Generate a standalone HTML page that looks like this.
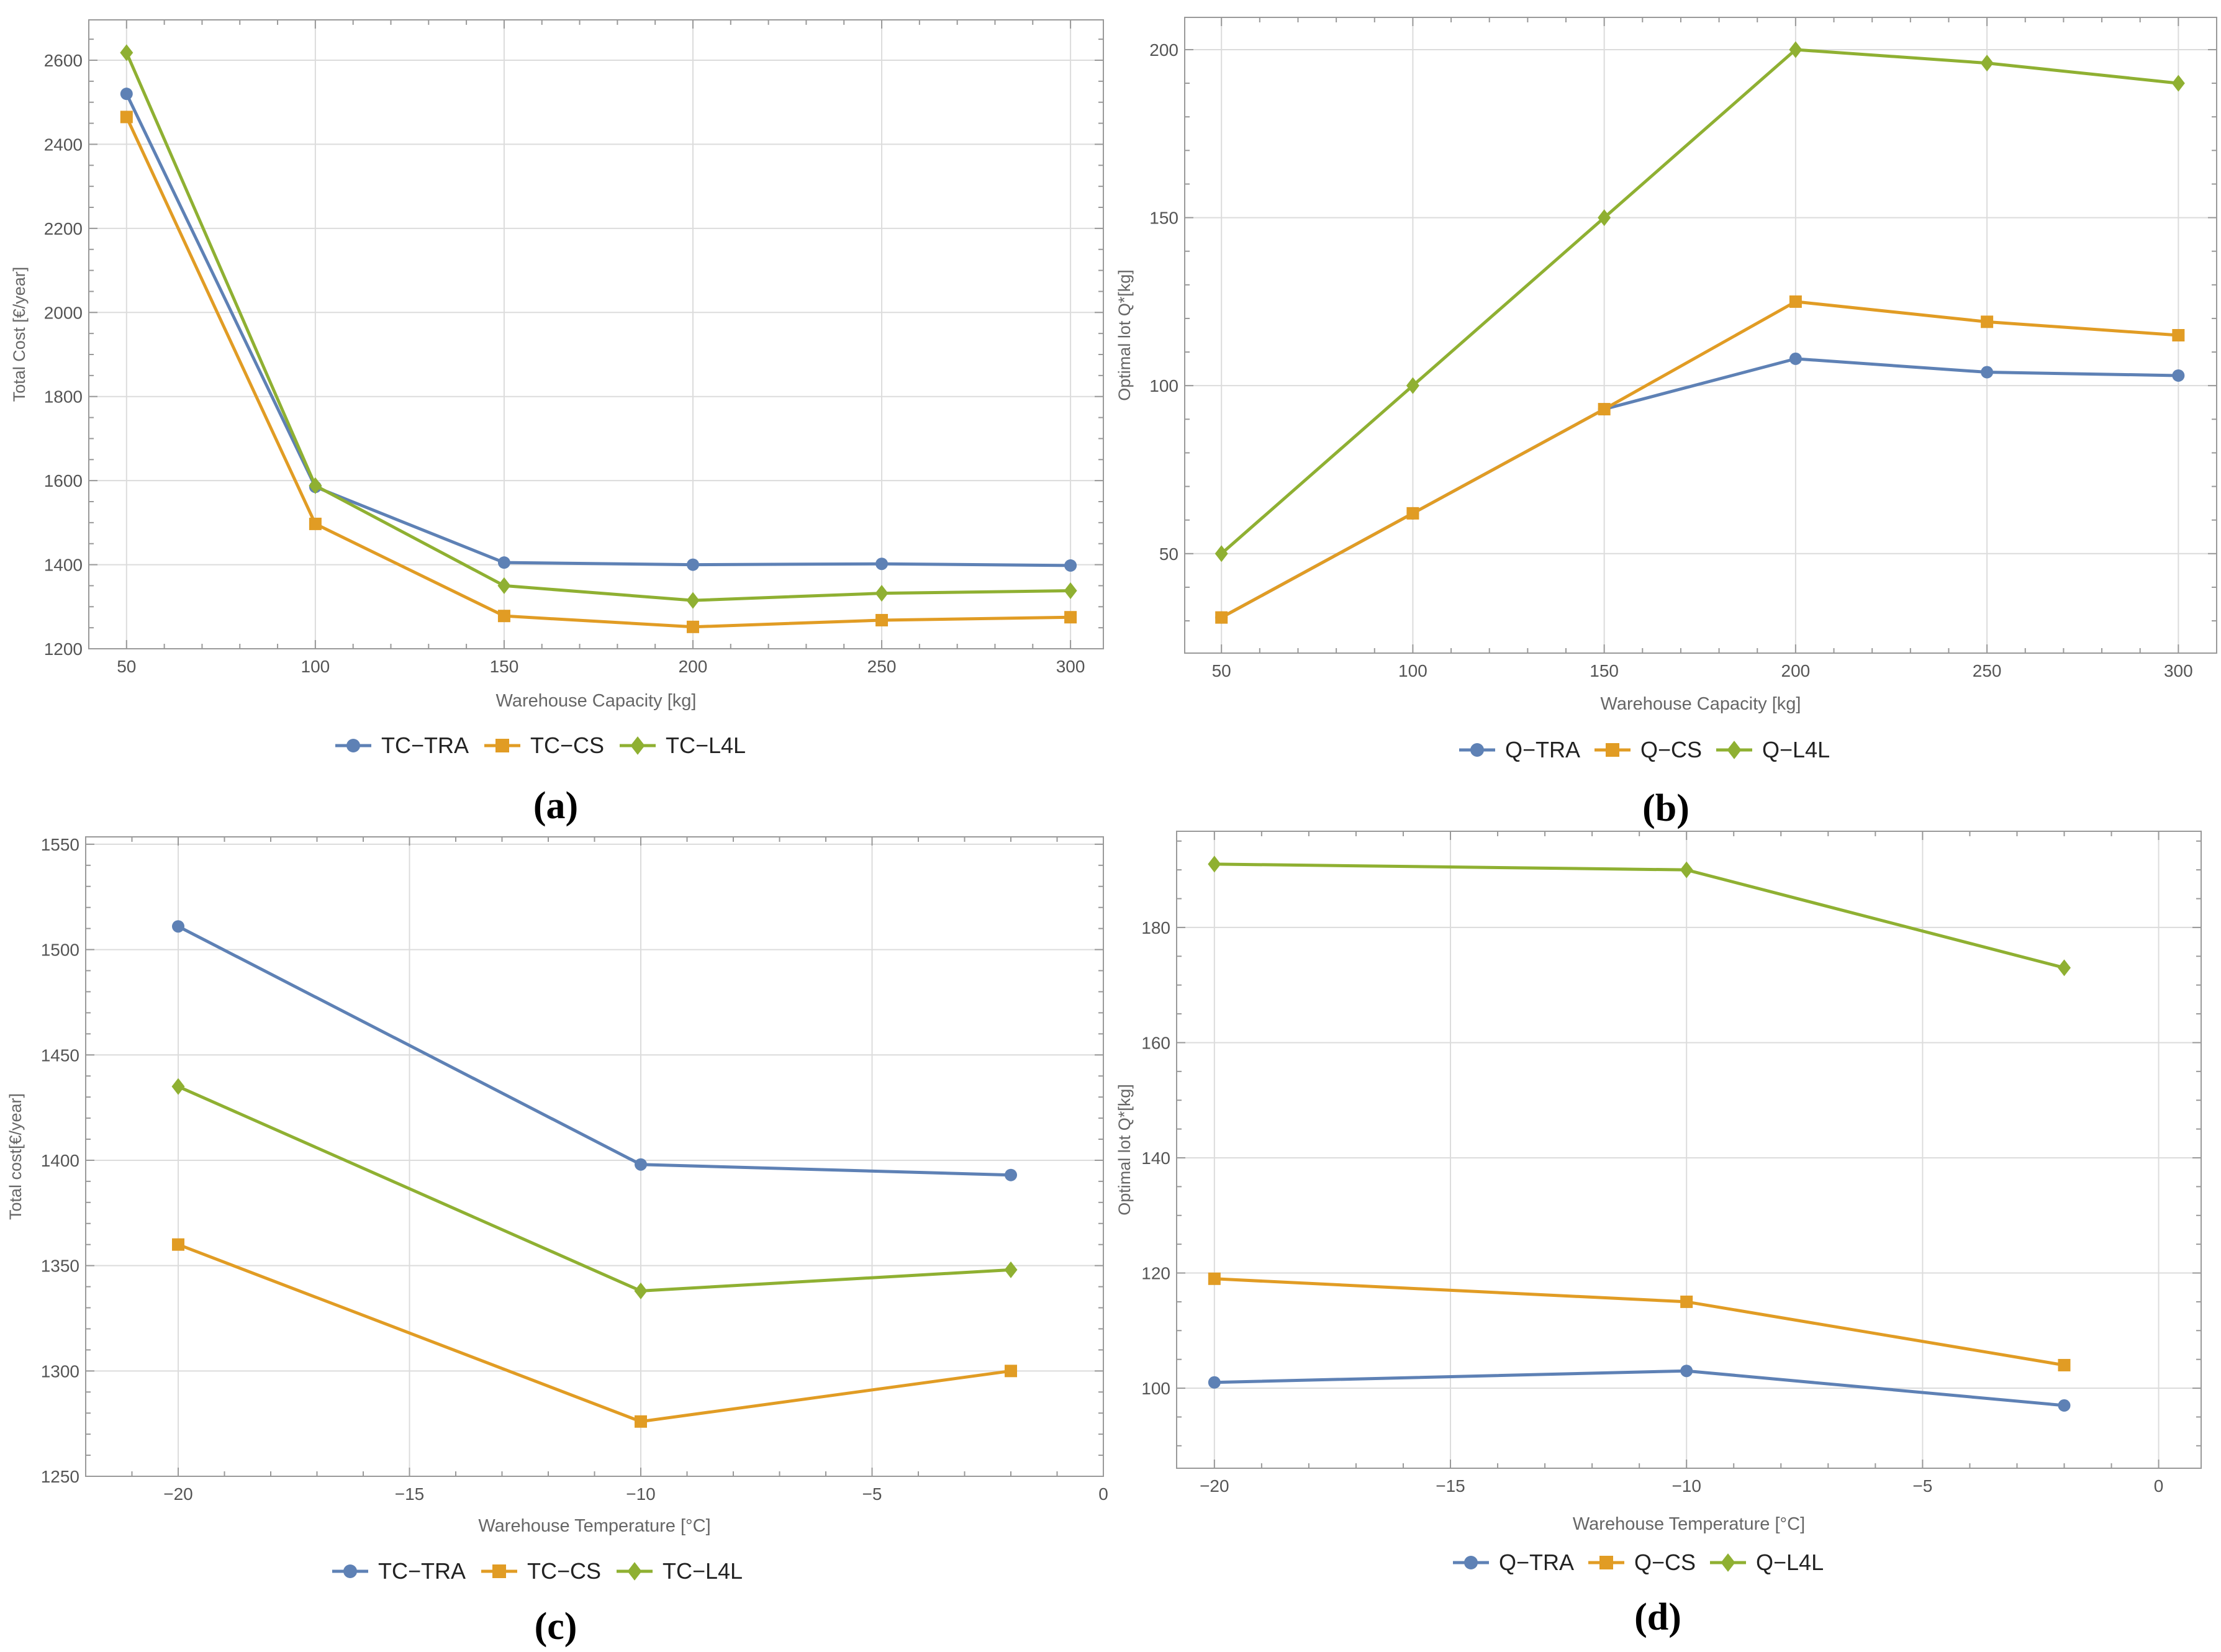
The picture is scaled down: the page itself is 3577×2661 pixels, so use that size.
<!DOCTYPE html>
<html><head><meta charset="utf-8"><style>
html,body{margin:0;padding:0;background:#fff;}
svg{display:block;}
</style></head><body>
<svg id="fig" width="3577" height="2661" viewBox="0 0 3577 2661" xmlns="http://www.w3.org/2000/svg" font-family="Liberation Sans, sans-serif"></svg>
<script>
const capX = [50, 100, 150, 200, 250, 300];
const tempX = [-20, -10, -2];
const aTRA = [2520, 1585, 1405, 1400, 1402, 1398];
const aCS = [2465, 1497, 1278, 1252, 1268, 1275];
const aL4L = [2618, 1588, 1350, 1315, 1332, 1338];
const bTRA = [31, 62, 93, 108, 104, 103];
const bCS = [31, 62, 93, 125, 119, 115];
const bL4L = [50, 100, 150, 200, 196, 190];
const cTRA = [1511, 1398, 1393];
const cCS = [1360, 1276, 1300];
const cL4L = [1435, 1338, 1348];
const dTRA = [101, 103, 97];
const dCS = [119, 115, 104];
const dL4L = [191, 190, 173];
const capTicks = [50, 100, 150, 200, 250, 300];
const tempTicks = [-20, -15, -10, -5, 0];
const aYTicks = [1200, 1400, 1600, 1800, 2000, 2200, 2400, 2600];
const bYTicks = [50, 100, 150, 200];
const cYTicks = [1250, 1300, 1350, 1400, 1450, 1500, 1550];
const dYTicks = [100, 120, 140, 160, 180];

const NS = 'http://www.w3.org/2000/svg';
const svg = document.getElementById('fig');
const COL = {TRA: '#5E81B5', CS: '#E19C24', L4L: '#8FB032'};
function mk(tag, attrs, parent) {
  const e = document.createElementNS(NS, tag);
  for (const k in attrs) e.setAttribute(k, attrs[k]);
  (parent || svg).appendChild(e);
  return e;
}
function marker(g, kind, x, y, s) {
  let m;
  if (kind === 'TRA') m = mk('circle', {cx: x, cy: y, r: s, fill: COL.TRA}, g);
  else if (kind === 'CS') m = mk('rect', {x: x - s, y: y - s, width: 2 * s, height: 2 * s, fill: COL.CS}, g);
  else m = mk('polygon', {points: `${x},${y - s * 1.35} ${x + s * 1.05},${y} ${x},${y + s * 1.35} ${x - s * 1.05},${y}`, fill: COL.L4L}, g);
  return m;
}
function chart(p) {
  const g = mk('g', {});
  
  
  const sx = v => p.L + (v - p.x0) / (p.x1 - p.x0) * (p.R - p.L);
  const sy = v => p.B - (v - p.y0) / (p.y1 - p.y0) * (p.B - p.T);
  p.xt.forEach(v => { if (v > p.x0 && v < p.x1) { const l = mk('line', {x1: sx(v), x2: sx(v), y1: p.T, y2: p.B, stroke: '#dcdcdc', 'stroke-width': 2}, g);   } });
  p.yt.forEach(v => { const l = mk('line', {x1: p.L, x2: p.R, y1: sy(v), y2: sy(v), stroke: '#dcdcdc', 'stroke-width': 2}, g);   });
  const fr = mk('rect', {x: p.L, y: p.T, width: p.R - p.L, height: p.B - p.T, fill: 'none', stroke: '#999', 'stroke-width': 2}, g);
  
  
  for (let v = Math.ceil(p.x0 / p.xm) * p.xm; v <= p.x1 + 1e-9; v += p.xm) {
    const maj = p.xt.some(t => Math.abs(t - v) < 1e-6), len = maj ? 14 : 8;
    mk('line', {x1: sx(v), x2: sx(v), y1: p.B, y2: p.B - len, stroke: '#999', 'stroke-width': 2}, g);
    mk('line', {x1: sx(v), x2: sx(v), y1: p.T, y2: p.T + len, stroke: '#999', 'stroke-width': 2}, g);
  }
  for (let v = Math.ceil(p.y0 / p.ym) * p.ym; v <= p.y1 + 1e-9; v += p.ym) {
    const maj = p.yt.some(t => Math.abs(t - v) < 1e-6), len = maj ? 14 : 8;
    mk('line', {x1: p.L, x2: p.L + len, y1: sy(v), y2: sy(v), stroke: '#999', 'stroke-width': 2}, g);
    mk('line', {x1: p.R, x2: p.R - len, y1: sy(v), y2: sy(v), stroke: '#999', 'stroke-width': 2}, g);
  }
  p.xt.forEach(v => {
    const t = mk('text', {x: sx(v), y: p.B + 38, 'text-anchor': 'middle', 'font-size': 28, fill: '#555'}, g);
    t.textContent = v < 0 ? '\u2212' + (-v) : v;
    
    
  });
  p.yt.forEach(v => {
    const t = mk('text', {x: p.L - 10, y: sy(v) + 10, 'text-anchor': 'end', 'font-size': 28, fill: '#555'}, g);
    t.textContent = v;
    
    
  });
  const xt = mk('text', {x: (p.L + p.R) / 2, y: p.xTitleY, 'text-anchor': 'middle', 'font-size': 29, fill: '#666'}, g);
  xt.textContent = p.xTitle;
  
  
  const ytx = p.yTitleX, ytc = (p.T + p.B) / 2;
  const yt = mk('text', {x: ytx, y: ytc, 'text-anchor': 'middle', 'font-size': 27, fill: '#666', transform: `rotate(-90 ${ytx} ${ytc})`}, g);
  yt.textContent = p.yTitle;
  
  
  p.series.forEach(s => {
    const pts = p.xs.map((x, i) => `${sx(x)},${sy(s.v[i])}`).join(' ');
    const pl = mk('polyline', {points: pts, fill: 'none', stroke: COL[s.k], 'stroke-width': 5, 'stroke-linejoin': 'round'}, g);
    
    
    p.xs.forEach((x, i) => {
      const m = marker(g, s.k, sx(x), sy(s.v[i]), 10);
      
      
    });
  });
  const lg = mk('g', {}, g);
  
  
  let x = p.legX;
  p.series.forEach(s => {
    const e = mk('g', {}, lg);
    
    
    mk('line', {x1: x, x2: x + 58, y1: p.legY, y2: p.legY, stroke: COL[s.k], 'stroke-width': 5}, e);
    marker(e, s.k, x + 29, p.legY, 11);
    const t = mk('text', {x: x + 74, y: p.legY + 12, 'font-size': 36, fill: '#222'}, e);
    t.textContent = s.label;
    x += 74 + s.label.length * 22 + 34;
  });
  const cap = mk('text', {x: p.capX, y: p.capY, 'text-anchor': 'middle', 'font-size': 62, 'font-weight': 'bold', 'font-family': 'Liberation Serif, serif', fill: '#000'}, g);
  cap.textContent = p.cap;
  
  
}
chart({name: 'chart-a', L: 143, R: 1777, T: 32, B: 1045, x0: 40, x1: 308.7, y0: 1200, y1: 2696, xt: capTicks, xm: 10, yt: aYTicks, ym: 50, xs: capX,
  series: [{k: 'TRA', v: aTRA, label: 'TC\u2212TRA'}, {k: 'CS', v: aCS, label: 'TC\u2212CS'}, {k: 'L4L', v: aL4L, label: 'TC\u2212L4L'}],
  xTitle: 'Warehouse Capacity [kg]', yTitle: 'Total Cost [\u20ac/year]', xTitleY: 1138, yTitleX: 40, legX: 540, legY: 1201, cap: '(a)', capX: 895, capY: 1318});
chart({name: 'chart-b', L: 1908, R: 3570, T: 28, B: 1052, x0: 40.4, x1: 310, y0: 20.4, y1: 209.6, xt: capTicks, xm: 10, yt: bYTicks, ym: 10, xs: capX,
  series: [{k: 'TRA', v: bTRA, label: 'Q\u2212TRA'}, {k: 'CS', v: bCS, label: 'Q\u2212CS'}, {k: 'L4L', v: bL4L, label: 'Q\u2212L4L'}],
  xTitle: 'Warehouse Capacity [kg]', yTitle: 'Optimal lot Q*[kg]', xTitleY: 1143, yTitleX: 1820, legX: 2350, legY: 1208, cap: '(b)', capX: 2683, capY: 1322});
chart({name: 'chart-c', L: 138, R: 1777, T: 1348, B: 2378, x0: -22, x1: 0, y0: 1250, y1: 1553.5, xt: tempTicks, xm: 1, yt: cYTicks, ym: 10, xs: tempX,
  series: [{k: 'TRA', v: cTRA, label: 'TC\u2212TRA'}, {k: 'CS', v: cCS, label: 'TC\u2212CS'}, {k: 'L4L', v: cL4L, label: 'TC\u2212L4L'}],
  xTitle: 'Warehouse Temperature [\u00b0C]', yTitle: 'Total cost[\u20ac/year]', xTitleY: 2467, yTitleX: 34, legX: 535, legY: 2531, cap: '(c)', capX: 895, capY: 2640});
chart({name: 'chart-d', L: 1895, R: 3545, T: 1339, B: 2365, x0: -20.8, x1: 0.9, y0: 86.1, y1: 196.7, xt: tempTicks, xm: 1, yt: dYTicks, ym: 5, xs: tempX,
  series: [{k: 'TRA', v: dTRA, label: 'Q\u2212TRA'}, {k: 'CS', v: dCS, label: 'Q\u2212CS'}, {k: 'L4L', v: dL4L, label: 'Q\u2212L4L'}],
  xTitle: 'Warehouse Temperature [\u00b0C]', yTitle: 'Optimal lot Q*[kg]', xTitleY: 2464, yTitleX: 1820, legX: 2340, legY: 2517, cap: '(d)', capX: 2670, capY: 2625});
</script>
</body></html>
